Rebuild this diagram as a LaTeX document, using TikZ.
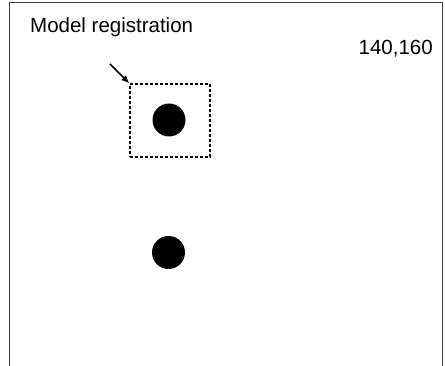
\documentclass[tikz,border=0pt]{standalone}
\usepackage{fontspec}
\setmainfont{Liberation Sans}
\usepackage{xcolor}
\usepackage{tikz}
\usetikzlibrary{arrows.meta}

\begin{document}
\begin{tikzpicture}[x=1pt,y=-1pt,
  lbl/.style={inner sep=0pt, font=\fontsize{20.5}{24}\selectfont},
  dot/.style={circle, fill=black, inner sep=0pt, minimum size=33pt}]
\useasboundingbox (0,0) rectangle (445,366);
\draw[line width=1pt, black!75] (9.5,366) -- (9.5,2.5) -- (442,2.5) -- (442,366);
\node[lbl, anchor=base west] (title) at (30,33) {Model registration};
\node[lbl, anchor=base east] (pos) at (433,55) {140,160};
\node[draw, line width=1.4pt, dash pattern=on 3pt off 2pt, minimum width=80pt, minimum height=73pt, inner sep=0pt] (win) at (170,120.5) {};
\node[dot] (top) at (169,120) {};
\node[dot] (bottom) at (168.5,252.5) {};
\coordinate (tail) at (110,64);
\draw[-{Latex[length=8pt,width=7pt]}, line width=1.5pt] (tail) -- (win.north west);
\end{tikzpicture}
\end{document}
